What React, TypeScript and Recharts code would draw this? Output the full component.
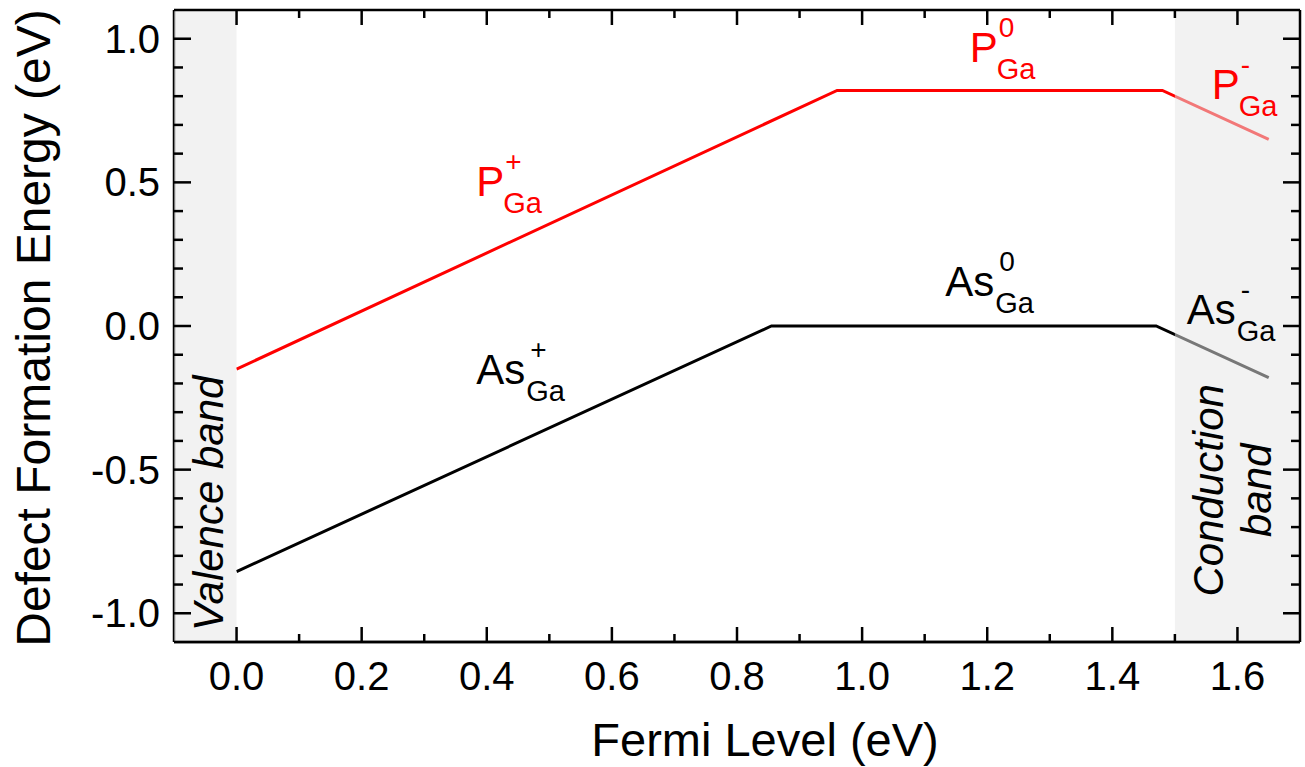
import React from 'react';
import {
  LineChart,
  Line,
  XAxis,
  YAxis,
  ReferenceArea,
  ReferenceDot,
  ReferenceLine,
  Label,
} from 'recharts';

document.body.style.margin = '0';

const FONT = '"Liberation Sans", Arial, Helvetica, sans-serif';

// formation energy (eV) vs Fermi level (eV)
const pGaLine = [
  { x: 0, y: -0.15 },
  { x: 0.96, y: 0.82 },
  { x: 1.48, y: 0.82 },
  { x: 1.65, y: 0.65 },
];

const asGaLine = [
  { x: 0, y: -0.855 },
  { x: 0.855, y: 0 },
  { x: 1.47, y: 0 },
  { x: 1.65, y: -0.18 },
];

const xDomain = [-0.1, 1.7];
const yDomain = [-1.1, 1.1];

const xTicks = [0, 0.1, 0.2, 0.3, 0.4, 0.5, 0.6, 0.7, 0.8, 0.9, 1.0, 1.1, 1.2, 1.3, 1.4, 1.5, 1.6];
const yTicks = [
  -1.0, -0.9, -0.8, -0.7, -0.6, -0.5, -0.4, -0.3, -0.2, -0.1, 0, 0.1, 0.2, 0.3, 0.4, 0.5, 0.6, 0.7,
  0.8, 0.9, 1.0,
];

const valenceBand = [-0.1, 0];
const conductionBand = [1.5, 1.7];

const speciesLabels = [
  { main: 'P', charge: '+', x: 0.383, y: 0.451, color: '#ff0000' },
  { main: 'P', charge: '0', x: 1.172, y: 0.9175, color: '#ff0000' },
  { main: 'P', charge: '-', x: 1.559, y: 0.789, color: '#ff0000' },
  { main: 'As', charge: '+', x: 0.383, y: -0.203, color: '#000000' },
  { main: 'As', charge: '0', x: 1.133, y: 0.103, color: '#000000' },
  { main: 'As', charge: '-', x: 1.519, y: 0.006, color: '#000000' },
];

const bandLabels = [
  { text: 'Valence band', x: -0.022, y: -0.617 },
  { text: 'Conduction', x: 1.5765, y: -0.572 },
  { text: 'band', x: 1.653, y: -0.572 },
];

// chart layout
const W = 1305;
const H = 767;
const M_TOP = 10;
const M_RIGHT = 5;
const X_AXIS_H = 125;
const Y_AXIS_W = 174;
const PLOT_TOP = M_TOP;
const PLOT_BOTTOM = H - X_AXIS_H;
const PLOT_LEFT = Y_AXIS_W;
const PLOT_RIGHT = W - M_RIGHT;

const isMajorX = (v: number) => Math.round(v * 10) % 2 === 0;
const isMajorY = (v: number) => Math.round(v * 10) % 5 === 0;

// inward ticks on bottom + mirrored on top
const XTick = (props: any) => {
  const { x, payload } = props;
  const v = payload.value;
  const major = isMajorX(v);
  const len = major ? 15 : 8;
  return (
    <g>
      <line x1={x} x2={x} y1={PLOT_BOTTOM} y2={PLOT_BOTTOM - len} stroke="#000" strokeWidth={2.5} />
      <line x1={x} x2={x} y1={PLOT_TOP} y2={PLOT_TOP + len} stroke="#000" strokeWidth={2.5} />
      {major && (
        <text x={x} y={PLOT_BOTTOM + 48} textAnchor="middle" fontSize={40} fontFamily={FONT} fill="#000">
          {v.toFixed(1)}
        </text>
      )}
    </g>
  );
};

// inward ticks on left + mirrored on right
const YTick = (props: any) => {
  const { y, payload } = props;
  const v = payload.value;
  const major = isMajorY(v);
  const len = major ? 17 : 9;
  return (
    <g>
      <line x1={PLOT_LEFT} x2={PLOT_LEFT + len} y1={y} y2={y} stroke="#000" strokeWidth={2.5} />
      <line x1={PLOT_RIGHT} x2={PLOT_RIGHT - len} y1={y} y2={y} stroke="#000" strokeWidth={2.5} />
      {major && (
        <text x={PLOT_LEFT - 14} y={y + 14} textAnchor="end" fontSize={40} fontFamily={FONT} fill="#000">
          {v.toFixed(1)}
        </text>
      )}
    </g>
  );
};

const SpeciesLabel = ({ cx, cy, main, charge, color }: any) => {
  const isP = main === 'P';
  const subDx = isP ? 27 : 50;
  const supDx = isP ? 29 : 54;
  return (
    <g fill={color} fontFamily={FONT}>
      <text x={cx} y={cy} fontSize={42}>
        {main}
      </text>
      <text x={cx + subDx} y={cy + 17} fontSize={29}>
        Ga
      </text>
      <text x={cx + supDx} y={cy - 25} fontSize={28}>
        {charge}
      </text>
    </g>
  );
};

const BandLabel = ({ cx, cy, text }: any) => (
  <text
    x={cx}
    y={cy}
    transform={`rotate(-90 ${cx} ${cy})`}
    textAnchor="middle"
    fontSize={42}
    fontStyle="italic"
    fontFamily={FONT}
    fill="#000"
  >
    {text}
  </text>
);

export default function App() {
  return (
    <LineChart
      width={W}
      height={H}
      margin={{ top: M_TOP, right: M_RIGHT, bottom: 0, left: 0 }}
      style={{ fontFamily: FONT }}
    >
      <XAxis
        dataKey="x"
        type="number"
        domain={xDomain}
        ticks={xTicks}
        interval={0}
        height={X_AXIS_H}
        tickLine={false}
        tick={XTick}
        axisLine={{ stroke: '#000', strokeWidth: 2.5 }}
        allowDataOverflow
      >
        <Label
          content={(p: any) => {
            const vb = p.viewBox;
            return (
              <text
                x={vb.x + vb.width / 2 + 28}
                y={vb.y + 114}
                textAnchor="middle"
                fontSize={47}
                fontFamily={FONT}
                fill="#000"
              >
                Fermi Level (eV)
              </text>
            );
          }}
        />
      </XAxis>
      <YAxis
        type="number"
        domain={yDomain}
        ticks={yTicks}
        interval={0}
        width={Y_AXIS_W}
        tickLine={false}
        tick={YTick}
        axisLine={{ stroke: '#000', strokeWidth: 2.5 }}
        allowDataOverflow
      >
        <Label
          content={(p: any) => {
            const vb = p.viewBox;
            const cx = vb.x + 50;
            const cy = vb.y + vb.height / 2 + 2;
            return (
              <text
                x={cx}
                y={cy}
                transform={`rotate(-90 ${cx} ${cy})`}
                textAnchor="middle"
                fontSize={48}
                fontFamily={FONT}
                fill="#000"
              >
                Defect Formation Energy (eV)
              </text>
            );
          }}
        />
      </YAxis>

      <Line
        data={pGaLine}
        dataKey="y"
        type="linear"
        stroke="#ff0000"
        strokeWidth={3}
        dot={false}
        isAnimationActive={false}
      />
      <Line
        data={asGaLine}
        dataKey="y"
        type="linear"
        stroke="#000000"
        strokeWidth={3}
        dot={false}
        isAnimationActive={false}
      />

      <ReferenceArea
        x1={valenceBand[0]}
        x2={valenceBand[1]}
        fill="rgb(230,230,230)"
        fillOpacity={0.52}
        stroke="none"
        zIndex={1500}
      />
      <ReferenceArea
        x1={conductionBand[0]}
        x2={conductionBand[1]}
        fill="rgb(230,230,230)"
        fillOpacity={0.52}
        stroke="none"
        zIndex={1500}
      />

      {/* frame: top, right and bottom edges stay black over the bands */}
      <ReferenceLine y={yDomain[1]} stroke="#000" strokeWidth={2.5} zIndex={1550} />
      <ReferenceLine y={yDomain[0]} stroke="#000" strokeWidth={2.5} zIndex={1550} />
      <ReferenceLine x={xDomain[1]} stroke="#000" strokeWidth={2.5} zIndex={1550} />

      {bandLabels.map((b) => (
        <ReferenceDot
          key={b.text}
          x={b.x}
          y={b.y}
          r={0}
          zIndex={1600}
          shape={(p: any) => <BandLabel cx={p.cx} cy={p.cy} text={b.text} />}
        />
      ))}
      {speciesLabels.map((s) => (
        <ReferenceDot
          key={s.main + s.charge}
          x={s.x}
          y={s.y}
          r={0}
          zIndex={1600}
          shape={(p: any) => (
            <SpeciesLabel cx={p.cx} cy={p.cy} main={s.main} charge={s.charge} color={s.color} />
          )}
        />
      ))}
    </LineChart>
  );
}
